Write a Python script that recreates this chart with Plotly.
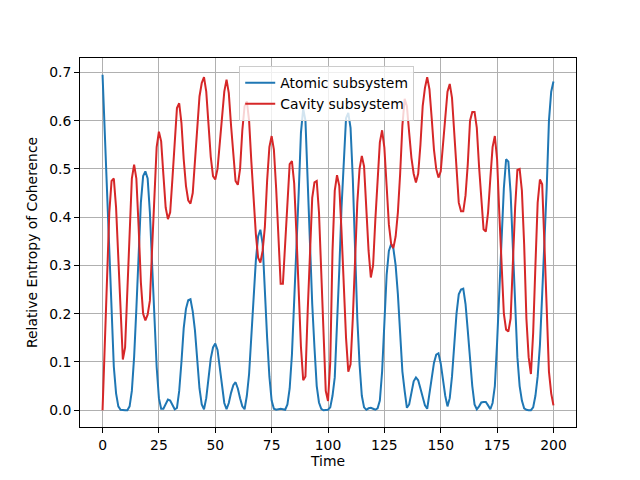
import plotly.graph_objects as go

time = list(range(0, 201))

atomic = [
    0.695, 0.57, 0.455, 0.315, 0.19, 0.09, 0.035, 0.008, 0.001, 0.0,
    0.0, 0.0, 0.008, 0.04, 0.11, 0.21, 0.32, 0.43, 0.485, 0.495,
    0.48, 0.41, 0.3, 0.195, 0.09, 0.025, 0.003, 0.003, 0.012, 0.022,
    0.02, 0.01, 0.002, 0.005, 0.04, 0.1, 0.17, 0.21, 0.228, 0.23,
    0.205, 0.165, 0.1, 0.045, 0.012, 0.002, 0.025, 0.068, 0.107, 0.13,
    0.138, 0.125, 0.09, 0.05, 0.015, 0.002, 0.015, 0.036, 0.052, 0.058,
    0.045, 0.025, 0.008, 0.002, 0.03, 0.075, 0.15, 0.23, 0.31, 0.36,
    0.374, 0.345, 0.24, 0.15, 0.07, 0.02, 0.003, 0.001, 0.002, 0.003,
    0.002, 0.001, 0.012, 0.045, 0.115, 0.22, 0.34, 0.45, 0.575, 0.625,
    0.6, 0.47, 0.33, 0.22, 0.13, 0.05, 0.016, 0.003, 0.0, 0.0,
    0.001, 0.006, 0.03, 0.068, 0.165, 0.29, 0.42, 0.53, 0.605, 0.616,
    0.585, 0.48, 0.33, 0.19, 0.095, 0.03, 0.006, 0.001, 0.004, 0.005,
    0.003, 0.001, 0.004, 0.02, 0.08, 0.18, 0.28, 0.33, 0.344, 0.335,
    0.3, 0.24, 0.165, 0.08, 0.04, 0.005, 0.012, 0.04, 0.06, 0.068,
    0.062, 0.045, 0.028, 0.01, 0.003, 0.035, 0.065, 0.098, 0.115, 0.118,
    0.097, 0.063, 0.03, 0.008, 0.025, 0.07, 0.14, 0.2, 0.24, 0.25,
    0.252, 0.22, 0.165, 0.1, 0.05, 0.012, 0.002, 0.008, 0.016, 0.017,
    0.017, 0.01, 0.002, 0.015, 0.05, 0.14, 0.26, 0.37, 0.46, 0.52,
    0.515, 0.45, 0.33, 0.206, 0.11, 0.05, 0.02, 0.004, 0.001, 0.0,
    0.0, 0.006, 0.03, 0.07, 0.135, 0.24, 0.344, 0.46, 0.6, 0.66,
    0.681,
]

cavity = [
    0.0, 0.15, 0.3, 0.41, 0.475, 0.48, 0.42, 0.305, 0.2, 0.105,
    0.13, 0.25, 0.39, 0.48, 0.509, 0.48, 0.38, 0.265, 0.2, 0.186,
    0.198, 0.227, 0.337, 0.45, 0.545, 0.577, 0.557, 0.487, 0.42, 0.396,
    0.41, 0.48, 0.56, 0.626, 0.636, 0.595, 0.52, 0.465, 0.435, 0.428,
    0.45, 0.51, 0.58, 0.65, 0.678, 0.69, 0.66, 0.59, 0.525, 0.485,
    0.478, 0.5, 0.555, 0.61, 0.66, 0.685, 0.657, 0.59, 0.525, 0.475,
    0.467, 0.5, 0.58, 0.63, 0.64, 0.6, 0.515, 0.434, 0.365, 0.316,
    0.306, 0.33, 0.38, 0.476, 0.545, 0.568, 0.54, 0.46, 0.355, 0.262,
    0.262, 0.34, 0.43, 0.51, 0.516, 0.47, 0.365, 0.245, 0.131, 0.062,
    0.07, 0.206, 0.345, 0.44, 0.472, 0.475, 0.41, 0.283, 0.138, 0.04,
    0.019, 0.1, 0.33, 0.455, 0.487, 0.465, 0.37, 0.25, 0.15, 0.08,
    0.095, 0.19, 0.33, 0.43, 0.5, 0.527, 0.505, 0.42, 0.33, 0.275,
    0.3, 0.395, 0.49, 0.555, 0.58, 0.544, 0.465, 0.385, 0.345, 0.336,
    0.36, 0.41, 0.49, 0.59, 0.645, 0.63, 0.575, 0.523, 0.49, 0.472,
    0.49, 0.55, 0.63, 0.668, 0.69, 0.665, 0.605, 0.54, 0.5, 0.482,
    0.495, 0.55, 0.607, 0.66, 0.676, 0.647, 0.575, 0.49, 0.43, 0.412,
    0.412, 0.445, 0.51, 0.6, 0.618, 0.618, 0.585, 0.505, 0.435, 0.375,
    0.37, 0.41, 0.48, 0.545, 0.568, 0.52, 0.406, 0.295, 0.2, 0.167,
    0.163, 0.19, 0.31, 0.42, 0.498, 0.5, 0.455, 0.344, 0.19, 0.11,
    0.075, 0.16, 0.3, 0.43, 0.478, 0.468, 0.344, 0.2, 0.08, 0.035,
    0.01,
]

x_ticks = [0, 25, 50, 75, 100, 125, 150, 175, 200]
y_ticks = [0.0, 0.1, 0.2, 0.3, 0.4, 0.5, 0.6, 0.7]

FONT = "DejaVu Sans"
FS = 13.9

fig = go.Figure()
fig.add_trace(go.Scatter(x=time, y=atomic, mode="lines", name="Atomic subsystem",
                         line=dict(color="#1f77b4", width=2)))
fig.add_trace(go.Scatter(x=time, y=cavity, mode="lines", name="Cavity subsystem",
                         line=dict(color="#d62728", width=2)))

axis_common = dict(
    showline=True, linecolor="black", linewidth=1, mirror=True,
    ticks="outside", ticklen=5, tickwidth=1, tickcolor="black",
    showgrid=True, gridcolor="#b0b0b0", gridwidth=1,
    zeroline=False,
    tickfont=dict(family=FONT, size=FS, color="black"),
)

fig.update_layout(
    width=632, height=472,
    paper_bgcolor="white", plot_bgcolor="white",
    margin=dict(l=72, r=64, t=50, b=53),
    font=dict(family=FONT, size=FS, color="black"),
    xaxis=dict(range=[-10, 210], tickvals=x_ticks,
               title=dict(text="Time", font=dict(family=FONT, size=FS), standoff=4),
               **axis_common),
    yaxis=dict(range=[-0.03475, 0.72975], tickvals=y_ticks, tickformat=".1f",
               title=dict(text="Relative Entropy of Coherence", font=dict(family=FONT, size=FS), standoff=8),
               **axis_common),
    legend=dict(x=0.321, y=0.978, xanchor="left", yanchor="top",
                bgcolor="rgba(255,255,255,0.8)", bordercolor="#cccccc", borderwidth=1,
                font=dict(family=FONT, size=FS), tracegroupgap=0),
    showlegend=True,
)

fig.write_html("out.html")
